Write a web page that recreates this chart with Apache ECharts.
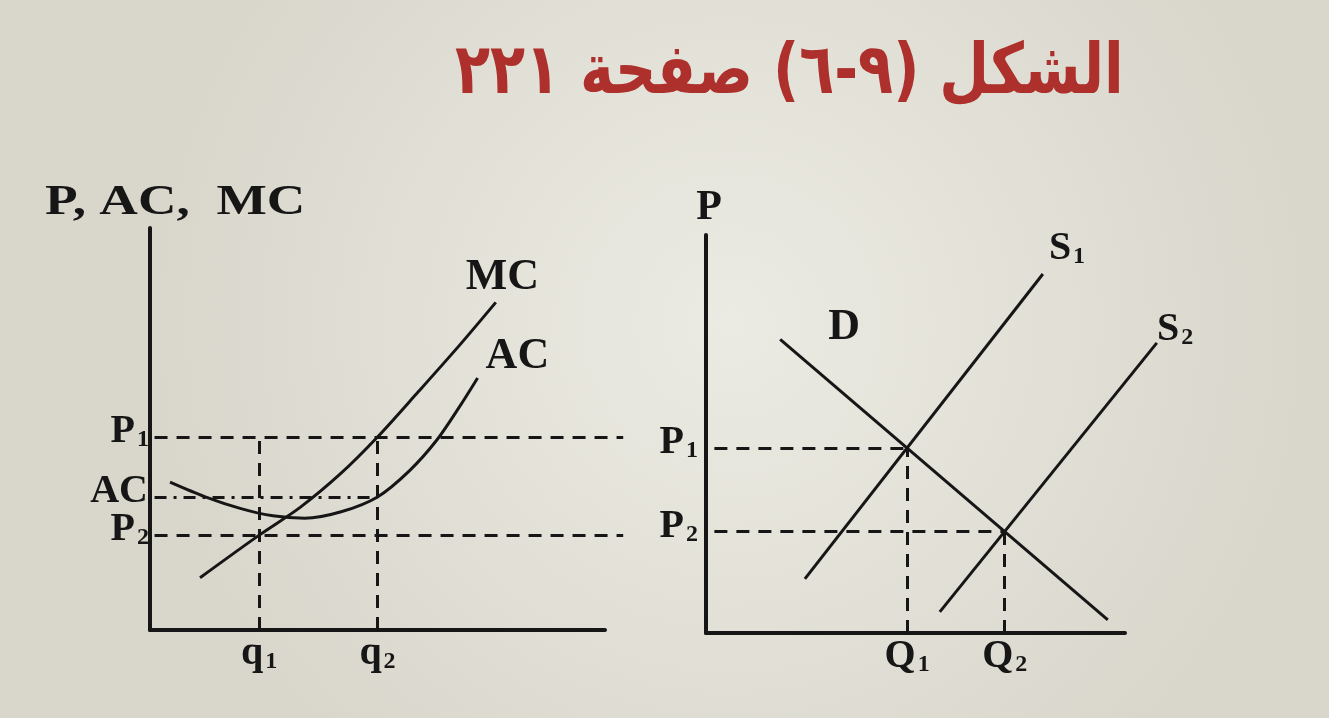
<!DOCTYPE html>
<html>
<head>
<meta charset="utf-8">
<title>الشكل (٩-٦)</title>
<script src="https://cdn.jsdelivr.net/npm/echarts@6/dist/echarts.min.js"></script>
<style>
  html, body { margin: 0; padding: 0; background: #e4e2d8; }
  #chart { width: 1329px; height: 718px; }
</style>
</head>
<body>
<div id="chart"></div>
<script>
// firm (left panel): quantity q, price / cost
const firmQ = [24, 50]                 // q1, q2
const firmQNames = ['1', '2']
const firmP = [23.6, 48]               // P2, P1
const firmPNames = ['2', '1']
const firmAC = [33.1]                  // AC at q2
const mcCurve = [[11, 13], [24, 23.6], [33, 30.5], [42, 39], [50, 48], [59, 59.3], [68, 70.8], [76, 81.5]]
const acCurve = [[4.4, 36.8], [12, 33.2], [20, 30.2], [27, 28.4], [34, 27.8], [42, 29.4], [50, 33.1], [57, 39.6], [63, 47.2], [68, 55.5], [72, 62.7]]
const firmGuideEnd = 104

// market (right panel)
const marketQ = [48, 71.3]             // Q1, Q2
const marketQNames = ['1', '2']
const marketP = [46.5, 25.5]           // P1, P2
const marketPNames = ['1', '2']
const demand = [[95.9, 3.3], [17.7, 73.8]]
const supply1 = [[23.6, 13.6], [80.4, 90.2]]
const supply2 = [[55.8, 5.3], [107.6, 72.9]]

const ink = '#161616'
const serif = '"Liberation Serif", "DejaVu Serif", serif'
const dash = [13, 9]

const rich = {
    b: { fontFamily: serif, fontWeight: 'bold', fontSize: 40, color: ink, lineHeight: 30, verticalAlign: 'bottom' },
    s: { fontFamily: serif, fontWeight: 'bold', fontSize: 24, color: ink, lineHeight: 18, verticalAlign: 'bottom', padding: [0, 0, 0, 2] }
}
const sub = (b, s) => '{b|' + b + '}' + (s ? '{s|' + s + '}' : '')

// straight segments go through a 'lines' series so they may run past the axis end
function segments(gridIdx, segs, type, label) {
    return {
        type: 'lines', coordinateSystem: 'cartesian2d',
        xAxisIndex: gridIdx, yAxisIndex: gridIdx,
        data: segs.map(c => ({ coords: c })), clip: false, silent: true, z: 2,
        lineStyle: { color: ink, width: 3, type: type || 'solid', opacity: 1, curveness: 0 },
        label: label || { show: false }
    }
}

function curve(gridIdx, data, name, offset) {
    return {
        type: 'line', xAxisIndex: gridIdx, yAxisIndex: gridIdx, name: name,
        data: data, symbol: 'none', smooth: 0.3, z: 3,
        lineStyle: { color: ink, width: 3 },
        endLabel: {
            show: true, formatter: name, offset: offset,
            fontFamily: serif, fontWeight: 'bold', fontSize: 44, color: ink
        }
    }
}

let series = []
// firm guides
let p1 = firmP[1], p2 = firmP[0], acLevel = firmAC[0]
series.push(segments(0, [
    [[1, p1], [firmGuideEnd, p1]],
    [[1, p2], [firmGuideEnd, p2]]
].concat(firmQ.map(q => [[q, 0], [q, p1]])), dash))
series.push(segments(0, [[[1, acLevel], [firmQ[1], acLevel]]], [12, 7, 3, 7]))
series.push(curve(0, mcCurve, 'MC', [-38, -25]))
series.push(curve(0, acCurve, 'AC', [0, -21]))
// market guides
series.push(segments(1, marketP.map((p, i) => [[2, p], [marketQ[i], p]])
    .concat(marketQ.map((q, i) => [[q, 0], [q, marketP[i]]])), dash))
series.push(curve(1, demand, 'D', [40, -12]))
series.push(curve(1, supply1, '{b|S}{s|1}', [-2, -20]))
series.push(segments(1, [supply2], 'solid', {
    show: true, position: 'end', distance: 2, formatter: '{b|S}{s|2}', rich: rich, padding: [0, 0, 14, 34]
}))
series.forEach(s => { if (s.endLabel) s.endLabel.rich = rich })

const axisLine = { show: true, lineStyle: { color: ink, width: 4 } }
const labelBase = { rich: rich, hideOverlap: false, showMinLabel: true, showMaxLabel: true }

let option = {
    animation: false,
    backgroundColor: {
        type: 'radial', x: 0.55, y: 0.45, r: 0.8,
        colorStops: [{ offset: 0, color: '#ecebe3' }, { offset: 1, color: '#d9d7cc' }]
    },
    graphic: [{
        type: 'text', left: 455, top: 40, scaleX: 0.82,
        style: {
            text: 'الشكل (٩-٦) صفحة ٢٢١',
            font: 'bold 70px "DejaVu Sans"', fill: '#ad302c'
        }
    }, {
        type: 'text', left: 45, top: 182, scaleX: 1.27,
        style: {
            text: 'P, AC,  MC',
            font: 'bold 42px "Liberation Serif"', fill: ink
        }
    }],
    grid: [
        { left: 150, top: 228, width: 455, height: 402 },
        { left: 706, top: 235, width: 419, height: 398 }
    ],
    xAxis: [
        {
            gridIndex: 0, type: 'value', min: 0, max: 100,
            axisLine: axisLine, axisTick: { show: false }, splitLine: { show: false },
            axisLabel: Object.assign({}, labelBase, {
                customValues: firmQ, margin: 14,
                formatter: v => sub('q', firmQNames[firmQ.indexOf(v)])
            })
        },
        {
            gridIndex: 1, type: 'value', min: 0, max: 100,
            axisLine: axisLine, axisTick: { show: false }, splitLine: { show: false },
            axisLabel: Object.assign({}, labelBase, {
                customValues: marketQ, margin: 14,
                formatter: v => sub('Q', marketQNames[marketQ.indexOf(v)])
            })
        }
    ],
    yAxis: [
        {
            gridIndex: 0, type: 'value', min: 0, max: 100, position: 'left',
            axisLine: axisLine, axisTick: { show: false }, splitLine: { show: false },
            axisLabel: Object.assign({}, labelBase, {
                customValues: firmP, margin: 1,
                formatter: v => sub('P', firmPNames[firmP.indexOf(v)])
            })
        },
        {
            gridIndex: 1, type: 'value', min: 0, max: 100,
            name: 'P', nameGap: 6,
            nameTextStyle: { fontFamily: serif, fontWeight: 'bold', fontSize: 42, color: ink, padding: [0, 0, 0, 6] },
            axisLine: axisLine, axisTick: { show: false }, splitLine: { show: false },
            axisLabel: Object.assign({}, labelBase, {
                customValues: marketP, margin: 8,
                formatter: v => sub('P', marketPNames[marketP.indexOf(v)])
            })
        },
        {
            // second left axis of the firm panel, only to carry the AC level label
            gridIndex: 0, type: 'value', min: 0, max: 100, position: 'left', offset: 0,
            axisLine: { show: false }, axisTick: { show: false }, splitLine: { show: false },
            axisLabel: Object.assign({}, labelBase, {
                customValues: firmAC, margin: 2,
                formatter: () => '{b|AC}'
            })
        }
    ],
    series: series
}

let myChart = echarts.init(document.getElementById('chart'))
myChart.setOption(option)
</script>
</body>
</html>
